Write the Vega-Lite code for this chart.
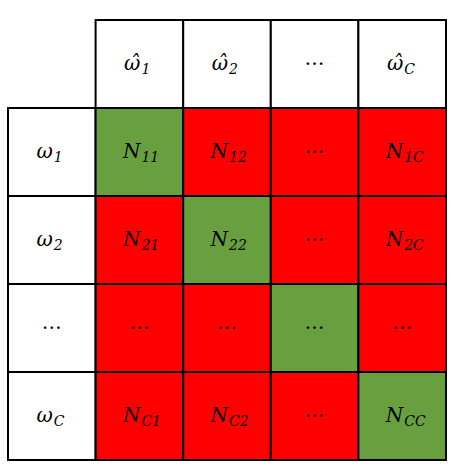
{
  "$schema": "https://vega.github.io/schema/vega-lite/v6.json",
  "width": 438,
  "height": 440,
  "autosize": "none",
  "padding": {"left": 8, "top": 20, "right": 7, "bottom": 12},
  "background": "white",
  "data": {"values": [
    {"r": "h", "c": "1", "k": "white", "m": "ω̂", "s": "1"},
    {"r": "h", "c": "2", "k": "white", "m": "ω̂", "s": "2"},
    {"r": "h", "c": "d", "k": "white", "m": "…", "s": ""},
    {"r": "h", "c": "C", "k": "white", "m": "ω̂", "s": "C"},
    {"r": "1", "c": "h", "k": "white", "m": "ω", "s": "1"},
    {"r": "2", "c": "h", "k": "white", "m": "ω", "s": "2"},
    {"r": "d", "c": "h", "k": "white", "m": "…", "s": ""},
    {"r": "C", "c": "h", "k": "white", "m": "ω", "s": "C"},
    {"r": "1", "c": "1", "k": "green", "m": "N", "s": "11"},
    {"r": "1", "c": "2", "k": "red", "m": "N", "s": "12"},
    {"r": "1", "c": "d", "k": "red", "m": "…", "s": ""},
    {"r": "1", "c": "C", "k": "red", "m": "N", "s": "1C"},
    {"r": "2", "c": "1", "k": "red", "m": "N", "s": "21"},
    {"r": "2", "c": "2", "k": "green", "m": "N", "s": "22"},
    {"r": "2", "c": "d", "k": "red", "m": "…", "s": ""},
    {"r": "2", "c": "C", "k": "red", "m": "N", "s": "2C"},
    {"r": "d", "c": "1", "k": "red", "m": "…", "s": ""},
    {"r": "d", "c": "2", "k": "red", "m": "…", "s": ""},
    {"r": "d", "c": "d", "k": "green", "m": "…", "s": ""},
    {"r": "d", "c": "C", "k": "red", "m": "…", "s": ""},
    {"r": "C", "c": "1", "k": "red", "m": "N", "s": "C1"},
    {"r": "C", "c": "2", "k": "red", "m": "N", "s": "C2"},
    {"r": "C", "c": "d", "k": "red", "m": "…", "s": ""},
    {"r": "C", "c": "C", "k": "green", "m": "N", "s": "CC"}
  ]},
  "encoding": {
    "x": {"field": "c", "type": "nominal", "scale": {"domain": ["h", "1", "2", "d", "C"], "paddingInner": 0, "paddingOuter": 0}, "axis": null},
    "y": {"field": "r", "type": "nominal", "scale": {"domain": ["h", "1", "2", "d", "C"], "paddingInner": 0, "paddingOuter": 0}, "axis": null}
  },
  "layer": [
    {
      "mark": {"type": "rect", "stroke": "black", "strokeWidth": 2},
      "encoding": {
        "color": {"field": "k", "type": "nominal", "scale": {"domain": ["white", "green", "red"], "range": ["#ffffff", "#68a040", "#ff0000"]}, "legend": null}
      }
    },
    {
      "mark": {"type": "text", "align": "right", "font": "DejaVu Serif", "fontStyle": "italic", "fontSize": 20, "dx": 1},
      "transform": [{"filter": "datum.s != ''"}],
      "encoding": {"text": {"field": "m"}}
    },
    {
      "mark": {"type": "text", "align": "center", "font": "DejaVu Serif", "fontSize": 20, "dy": -5},
      "transform": [{"filter": "datum.s == ''"}],
      "encoding": {"text": {"field": "m"}}
    },
    {
      "mark": {"type": "text", "align": "left", "font": "DejaVu Serif", "fontStyle": "italic", "fontSize": 14, "dx": 2, "dy": 6},
      "encoding": {"text": {"field": "s"}}
    }
  ],
  "config": {"view": {"stroke": null}}
}
